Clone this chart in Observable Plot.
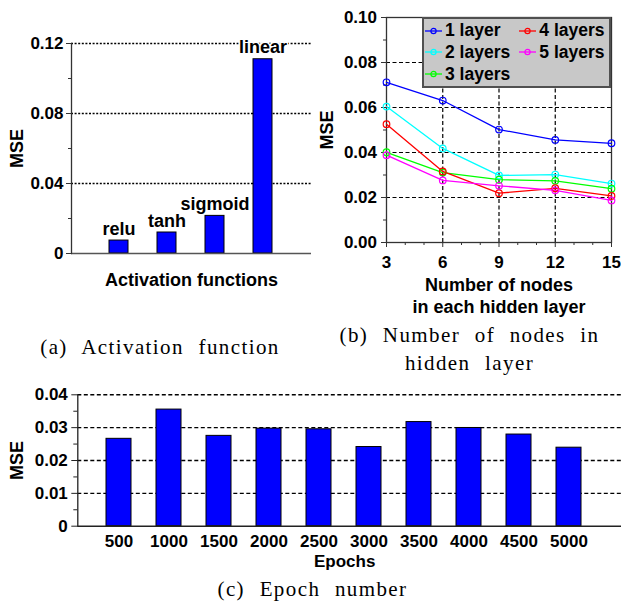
<!DOCTYPE html>
<html><head><meta charset="utf-8">
<script src="https://cdn.jsdelivr.net/npm/d3@7"></script>
<script src="https://cdn.jsdelivr.net/npm/@observablehq/plot@0.6"></script>
<style>
body{margin:0;background:#fff;}
#root{position:relative;width:621px;height:602px;overflow:hidden;background:#fff;font-family:"Liberation Sans",Arial,sans-serif;}
.panel{position:absolute;}
.panel svg{overflow:visible;}
.cap{position:absolute;font-family:"Liberation Serif","Times New Roman",serif;font-size:21px;letter-spacing:1.4px;word-spacing:8px;text-align:center;color:#000;white-space:nowrap;}
.legend{position:absolute;left:421.7px;top:16.7px;width:189.3px;height:71px;box-sizing:border-box;background:#c8c8c8;border:2px solid #505050;display:grid;grid-auto-flow:column;grid-template-rows:repeat(3,21.7px);grid-template-columns:94.3px auto;padding-top:1.2px;padding-left:1.3px;font-weight:bold;font-size:17.5px;color:#000;}
.item{display:flex;align-items:center;white-space:nowrap;}
.item svg{margin-right:3px;}
</style></head>
<body>
<div id="root">
  <div class="panel" id="pa" style="left:0;top:0"></div>
  <div class="panel" id="pb" style="left:320px;top:0"></div>
  <div class="panel" id="pc" style="left:0;top:370px"></div>
  <div class="legend" id="legend"></div>
  <div class="cap" style="left:10px;width:300px;top:335.9px;line-height:23px">(a) Activation function</div>
  <div class="cap" style="left:319.5px;width:300px;top:322.1px;line-height:27.7px">(b) Number of nodes in<br>hidden layer</div>
  <div class="cap" style="left:162.5px;width:300px;top:578.1px;line-height:23px">(c) Epoch number</div>
</div>
<script>
// ---------- data ----------
const activations = ["relu", "tanh", "sigmoid", "linear"];
const activationMSE = [0.0074, 0.0120, 0.0215, 0.1110];

const nodes = [3, 6, 9, 12, 15];
const layerNames = ["1 layer", "2 layers", "3 layers", "4 layers", "5 layers"];
const layerColors = ["#0000ff", "#00ffff", "#00ff00", "#ff0000", "#ff00ff"];
const mse1 = [0.0712, 0.0631, 0.0502, 0.0456, 0.0441];
const mse2 = [0.0604, 0.0418, 0.0298, 0.0302, 0.0262];
const mse3 = [0.0401, 0.0311, 0.0279, 0.0274, 0.0239];
const mse4 = [0.0526, 0.0316, 0.0219, 0.0241, 0.0207];
const mse5 = [0.0388, 0.0276, 0.0252, 0.0232, 0.0187];

const epochs = ["500", "1000", "1500", "2000", "2500", "3000", "3500", "4000", "4500", "5000"];
const epochMSE = [0.0266, 0.0355, 0.0275, 0.0297, 0.0295, 0.0241, 0.0317, 0.0299, 0.0279, 0.0239];

// ticks
const aTicks = [0, 0.04, 0.08, 0.12];
const aMinor = [0.02, 0.06, 0.10];
const aGrid = [0.04, 0.08, 0.12];
const bYTicks = [0, 0.02, 0.04, 0.06, 0.08, 0.10];
const bYMinor = [0.01, 0.03, 0.05, 0.07, 0.09];
const bYGrid = [0.02, 0.04, 0.06, 0.08];
const bXTicks = [3, 6, 9, 12, 15];
const bXMinor = [4, 5, 7, 8, 10, 11, 13, 14];
const bXGrid = [6, 9, 12];
const cTicks = [0, 0.01, 0.02, 0.03, 0.04];
const cMinor = [0.005, 0.015, 0.025, 0.035];
const cGrid = [0.01, 0.02, 0.03, 0.04];

// ---------- helpers ----------
const fontFam = '"Liberation Sans", Arial, sans-serif';
const baseStyle = {fontFamily: fontFam, fontWeight: "bold", fontSize: "17px", color: "black", background: "transparent", overflow: "visible"};
const fmt0 = v => v === 0 ? "0" : d3.format(".2f")(v);
const blank = () => "";
const axisColor = "#333";

// ---------- panel (a) ----------
const aData = activations.map((name, i) => ({name, mse: activationMSE[i]}));
const plotA = Plot.plot({
  width: 320, height: 290, marginLeft: 71, marginRight: 9, marginTop: 43, marginBottom: 37,
  style: baseStyle,
  x: {domain: activations, paddingInner: 0.604, paddingOuter: 0.8, axis: null},
  y: {domain: [0, 0.12]},
  marks: [
    Plot.ruleY(aGrid, {stroke: "black", strokeWidth: 1.3, strokeDasharray: "2,1.6"}),
    Plot.barY(aData, {x: "name", y: "mse", fill: "#0000ff", stroke: "black", strokeWidth: 1}),
    Plot.ruleY([0], {stroke: "#555", strokeWidth: 1.5}),
    Plot.frame({anchor: "left", stroke: axisColor, strokeWidth: 1.3}),
    Plot.axisY({ticks: aTicks, tickFormat: fmt0, tickSize: 5, tickPadding: 3, label: null, stroke: axisColor}),
    Plot.axisY({ticks: aMinor, tickFormat: blank, tickSize: 3, label: null, stroke: axisColor}),
    Plot.text(aData, {x: "name", y: "mse", text: "name", lineAnchor: "bottom", dy: -6, fontSize: 18, fill: "black", stroke: "white", strokeWidth: 3, paintOrder: "stroke"}),
    Plot.text(["MSE"], {text: d => d, frameAnchor: "left", rotate: -90, textAnchor: "middle", dx: -54, fontSize: 18}),
    Plot.text(["Activation functions"], {text: d => d, frameAnchor: "bottom", lineAnchor: "top", dy: 20, fontSize: 18})
  ]
});
document.getElementById("pa").append(plotA);

// ---------- panel (b) ----------
const seriesValues = [mse1, mse2, mse3, mse4, mse5];
const bData = layerNames.flatMap((s, i) => nodes.map((n, j) => ({series: s, nodes: n, mse: seriesValues[i][j]})));
const plotB = Plot.plot({
  width: 301, height: 320, marginLeft: 66, marginRight: 10, marginTop: 17, marginBottom: 78,
  style: baseStyle,
  x: {domain: [3, 15]},
  y: {domain: [0, 0.10]},
  color: {domain: layerNames, range: layerColors},
  marks: [
    Plot.ruleY(bYGrid, {stroke: "black", strokeWidth: 1.2, strokeDasharray: "4,2.5"}),
    Plot.ruleX(bXGrid, {stroke: "black", strokeWidth: 1.2, strokeDasharray: "4,2.5"}),
    Plot.frame({stroke: axisColor, strokeWidth: 1.3}),
    Plot.axisY({ticks: bYTicks, tickFormat: d3.format(".2f"), tickSize: 5, tickPadding: 4.5, label: null, stroke: axisColor}),
    Plot.axisY({ticks: bYMinor, tickFormat: blank, tickSize: 3, label: null, stroke: axisColor}),
    Plot.axisX({ticks: bXTicks, tickFormat: d3.format("d"), tickSize: 5, tickPadding: 8, label: null, stroke: axisColor}),
    Plot.axisX({ticks: bXMinor, tickFormat: blank, tickSize: 3, label: null, stroke: axisColor}),
    Plot.line(bData, {x: "nodes", y: "mse", z: "series", stroke: "series", strokeWidth: 1.3}),
    Plot.dot(bData, {x: "nodes", y: "mse", stroke: "series", r: 3.3, strokeWidth: 1.2, fill: "none"}),
    Plot.text(["MSE"], {text: d => d, frameAnchor: "left", rotate: -90, textAnchor: "middle", dx: -59, fontSize: 18}),
    Plot.text(["Number of nodes\nin each hidden layer"], {text: d => d, frameAnchor: "bottom", lineAnchor: "top", dy: 32, lineHeight: 1.26, fontSize: 18})
  ]
});
document.getElementById("pb").append(plotB);

// legend
const legend = document.getElementById("legend");
layerNames.forEach((name, i) => {
  const item = document.createElement("div");
  item.className = "item";
  item.innerHTML = `<svg width="17" height="10"><line x1="0" x2="17" y1="5" y2="5" stroke="${layerColors[i]}" stroke-width="1.3"/><circle cx="8.5" cy="5" r="2.6" fill="none" stroke="${layerColors[i]}" stroke-width="1.2"/></svg><span>${name}</span>`;
  legend.append(item);
});

// ---------- panel (c) ----------
const cData = epochs.map((e, i) => ({epoch: e, mse: epochMSE[i]}));
const plotC = Plot.plot({
  width: 621, height: 200, marginLeft: 77.3, marginRight: 0, marginTop: 24.3, marginBottom: 44.3,
  style: baseStyle,
  x: {domain: epochs, range: [104.2, 583.4], paddingInner: 0.5, paddingOuter: 0},
  y: {domain: [0, 0.04]},
  marks: [
    Plot.ruleY(cGrid, {stroke: "black", strokeWidth: 1.4, strokeDasharray: "4,2.5"}),
    Plot.barY(cData, {x: "epoch", y: "mse", fill: "#0000ff", stroke: "black", strokeWidth: 1}),
    Plot.ruleY([0], {stroke: "#222", strokeWidth: 1.5}),
    Plot.frame({anchor: "left", stroke: "#222", strokeWidth: 1.3}),
    Plot.axisY({ticks: cTicks, tickFormat: fmt0, tickSize: 6, tickPadding: 4, label: null, stroke: "#222"}),
    Plot.axisY({ticks: cMinor, tickFormat: blank, tickSize: 4, label: null, stroke: "#222"}),
    Plot.axisX({tickSize: 0, tickPadding: 8.5, fontSize: 17, label: null}),
    Plot.text(["MSE"], {text: d => d, frameAnchor: "left", rotate: -90, textAnchor: "middle", dx: -60.6, fontSize: 18}),
    Plot.text(["Epochs"], {text: d => d, frameAnchor: "bottom", lineAnchor: "top", dy: 28.5, dx: -5, fontSize: 17})
  ]
});
document.getElementById("pc").append(plotC);
</script>
</body></html>
